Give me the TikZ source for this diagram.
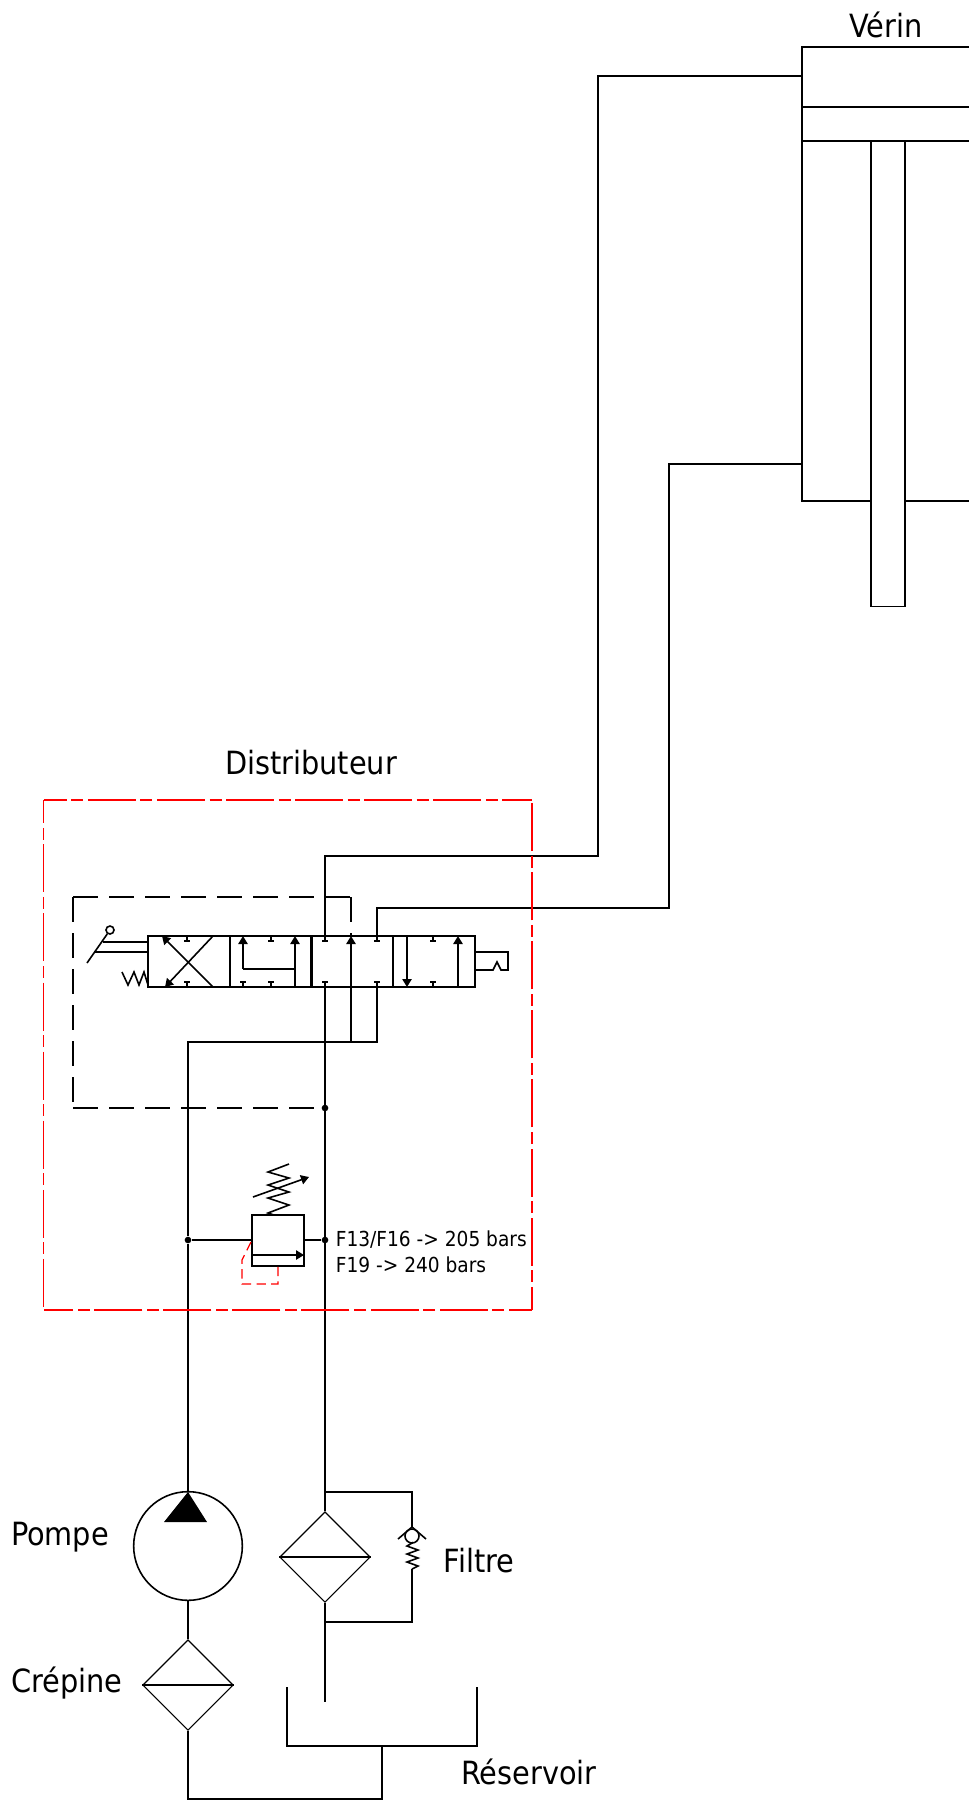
\documentclass[tikz,border=0pt]{standalone}
\usepackage{fontspec}
\setmainfont{DejaVu Sans Condensed}
\usetikzlibrary{arrows.meta,shapes.geometric}
\begin{document}
\begin{tikzpicture}[
                x=0.75pt,y=-0.75pt,
                line width=1.2pt,
                >={Triangle[length=6pt,width=7pt]},
                lab/.style={inner sep=0pt,font=\fontsize{24}{24}\selectfont},
                smalllab/.style={inner sep=0pt,anchor=west,font=\fontsize{15.5}{16}\selectfont},
                cell/.style={draw,inner sep=0pt,minimum width=61.2pt,minimum height=38.25pt},
                filt/.style={draw,diamond,inner sep=0pt,line width=0.9pt,minimum width=68pt,minimum height=68pt},
                dot/.style={circle,fill,inner sep=0pt,minimum size=5pt},
                reddash/.style={red,line width=1.3pt,dash pattern=on 36pt off 3.4pt on 9pt off 3.4pt,dash phase=18.5pt},
                pilot/.style={black,dash pattern=on 18.75pt off 8.25pt},
              ]
              \useasboundingbox (0,0) rectangle (969,1800);
              % labels
              \node[lab] (verin) at (886,25) {Vérin};
              \node[lab] (distrib) at (311,763) {Distributeur};
              \node[lab] (pompelab) at (60,1537) {Pompe};
              \node[lab] (filtrelab) at (479,1561) {Filtre};
              \node[lab] (crepinelab) at (67,1683) {Crépine};
              \node[lab] (reservoirlab) at (529,1772) {Réservoir};
              \node[smalllab] (tar1) at (335,1240) {F13/F16 -> 205 bars};
              \node[smalllab] (tar2) at (335,1265) {F19 -> 240 bars};
              % verin
              \coordinate (vtl) at (802,47);
              \coordinate (vtr) at (969,47);
              \coordinate (vbl) at (802,501);
              \coordinate (vbr) at (969,501);
              \coordinate (p1l) at (802,107);
              \coordinate (p1r) at (969,107);
              \coordinate (p2l) at (802,141);
              \coordinate (p2r) at (969,141);
              \coordinate (rodl) at (871,501);
              \coordinate (rodr) at (905,501);
              \draw (vtr)--(vtl)--(vbl)--(rodl);
              \draw (rodr)--(vbr);
              \draw (p1l)--(p1r);
              \draw (p2l)--(p2r);
              \node[draw,inner sep=0pt,minimum width=25.5pt,minimum height=349.5pt] (rod) at (888,373.5) {};
              % distributeur
              \node[cell] (c1) at (189,961.5) {};
              \node[cell] (c2) at (271,961.5) {};
              \node[cell] (c3) at (352,961.5) {};
              \node[cell] (c4) at (434,961.5) {};
              % passages
              \coordinate (xa) at (213,936);
              \coordinate (xb) at (165,987);
              \coordinate (xc) at (213,987);
              \coordinate (xd) at (162,936);
              \draw[->] (xa)--(xb);
              \draw[->] (xc)--(xd);
              \coordinate (a2) at (243,969);
              \coordinate (a2t) at (243,936);
              \coordinate (b2) at (295,969);
              \coordinate (b2t) at (295,936);
              \coordinate (b2b) at (295,987);
              \draw[->] (a2)--(a2t);
              \draw (a2)--(b2);
              \draw[->] (b2b)--(b2t);
              \coordinate (a3t) at (351,936);
              \coordinate (a3b) at (351,987);
              \draw[->] (a3b)--(a3t);
              \coordinate (a4t) at (407,936);
              \coordinate (a4b) at (407,987);
              \draw[->] (a4t)--(a4b);
              \coordinate (b4t) at (458,936);
              \coordinate (b4b) at (458,987);
              \draw[->] (b4b)--(b4t);
              % ports fermes
              \foreach \px in {187,271,325,377,433}{
                \draw[line width=0.8pt] (\px,936)--(\px,941);
                \draw[line width=0.8pt] (\px-3,941)--(\px+3,941);
              }
              \foreach \px in {187,243,271,325,377,433}{
                \draw[line width=0.8pt] (\px,987)--(\px,982);
                \draw[line width=0.8pt] (\px-3,982)--(\px+3,982);
              }
              % levier et ressort
              \node[draw,circle,inner sep=0pt,minimum size=6pt] (bille) at (110,930) {};
              \coordinate (levbas) at (87,963);
              \coordinate (lev1) at (103,942);
              \coordinate (lev1v) at (148,942);
              \coordinate (lev2) at (94,952);
              \coordinate (lev2v) at (148,952);
              \draw (bille)--(levbas);
              \draw (lev1)--(lev1v);
              \draw (lev2)--(lev2v);
              \draw (122,972)--(128,985)--(134,972)--(139,985)--(144,972)--(148,985);
              % commande droite
              \coordinate (d1) at (475,952);
              \coordinate (d2) at (508,952);
              \coordinate (d3) at (508,970);
              \coordinate (d4) at (493,970);
              \coordinate (d5) at (497,962);
              \coordinate (d6) at (501,970);
              \coordinate (d7) at (475,970);
              \draw (d1)--(d2)--(d3)--(d6)--(d5)--(d4)--(d7);
              % liaisons verin
              \coordinate (pa) at (325,936);
              \coordinate (pa1) at (325,856);
              \coordinate (pa2) at (598,856);
              \coordinate (pa3) at (598,76);
              \coordinate (pa4) at (802,76);
              \draw (pa)--(pa1)--(pa2)--(pa3)--(pa4);
              \coordinate (pb) at (377,936);
              \coordinate (pb1) at (377,908);
              \coordinate (pb2) at (669,908);
              \coordinate (pb3) at (669,464);
              \coordinate (pb4) at (802,464);
              \draw (pb)--(pb1)--(pb2)--(pb3)--(pb4);
              % filtre et retour
              \node[filt] (filtre) at (325,1557) {};
              \draw[line width=0.9pt] (filtre.west)--(filtre.east);
              \node[dot] (jt) at (325,1108) {};
              \node[dot] (jr) at (325,1240) {};
              \coordinate (rv) at (325,987);
              \draw (rv)--(filtre.north);
              \coordinate (rtop) at (325,1492);
              \coordinate (rtopd) at (412,1492);
              \coordinate (rbot) at (325,1622);
              \coordinate (rbotd) at (412,1622);
              \coordinate (rfin) at (325,1702);
              \draw (filtre.south)--(rfin);
              \node[draw,circle,inner sep=0pt,minimum size=10.5pt] (clapet) at (412,1536) {};
              \coordinate (ressh) at (412,1543);
              \coordinate (ressb) at (412,1569);
              \draw (rtop)--(rtopd)--(clapet);
              \draw (ressb)--(rbotd)--(rbot);
              \coordinate (vg) at (398,1539);
              \coordinate (vh) at (412,1527);
              \coordinate (vd) at (426,1539);
              \draw (vg)--(vh)--(vd);
              \draw (clapet)--(ressh)--(407,1546)--(418,1550)--(407,1554)--(418,1558)--(407,1562)--(418,1566)--(ressb);
              % pression
              \coordinate (pv1) at (351,987);
              \coordinate (pv2) at (351,1042);
              \coordinate (pv3) at (377,987);
              \coordinate (pv4) at (377,1042);
              \node[dot] (jp) at (188,1240) {};
              \coordinate (pl) at (188,1042);
              \draw (pv1)--(pv2);
              \draw (pv3)--(pv4)--(pl)--(jp);
              % pompe
              \node[draw,circle,inner sep=0pt,minimum size=81.5pt] (pompe) at (188,1546) {};
              \draw (jp)--(pompe.north);
              \coordinate (t1) at (188,1492);
              \coordinate (t2) at (207,1522);
              \coordinate (t3) at (164,1522);
              \fill (t1)--(t2)--(t3)--cycle;
              % crepine
              \node[filt] (crepine) at (188,1685) {};
              \draw[line width=0.9pt] (crepine.west)--(crepine.east);
              \draw (pompe.south)--(crepine.north);
              \coordinate (asp1) at (188,1799);
              \coordinate (asp2) at (382,1799);
              \coordinate (asp3) at (382,1746);
              \draw (crepine.south)--(asp1)--(asp2)--(asp3);
              % reservoir
              \coordinate (rs1) at (287,1687);
              \coordinate (rs2) at (287,1746);
              \coordinate (rs3) at (477,1746);
              \coordinate (rs4) at (477,1687);
              \draw (rs1)--(rs2)--(rs3)--(rs4);
              % limiteur
              \node[draw,inner sep=0pt,minimum width=39pt,minimum height=38.25pt] (lim) at (278,1240.5) {};
              \coordinate (limg) at (252,1240);
              \coordinate (limr) at (304,1240);
              \coordinate (limh) at (252,1255);
              \coordinate (limd) at (304,1255);
              \draw[->] (limh)--(limd);
              \draw (jp)--(limg);
              \draw (limr)--(jr);
              \coordinate (rlim) at (274,1215);
              \draw (rlim)--(268,1213)--(289,1205)--(268,1198)--(289,1192)--(268,1185)--(289,1178)--(268,1172)--(289,1164);
              \coordinate (fl1) at (253,1197);
              \coordinate (fl2) at (309,1177);
              \draw[->] (fl1)--(fl2);
              % pilotage
              \coordinate (pi1) at (351,936);
              \coordinate (pi2) at (351,897);
              \coordinate (pi3) at (73,897);
              \coordinate (pi4) at (73,1108);
              \draw[pilot] (pi2)--(pi1);
              \draw[pilot] (pi3)--(pi2);
              \draw[pilot] (pi3)--(pi4);
              \draw[pilot] (pi4)--(jt);
              \coordinate (rd1) at (251,1242);
              \coordinate (rd2) at (242,1260);
              \coordinate (rd3) at (242,1284);
              \coordinate (rd4) at (278,1284);
              \coordinate (rd5) at (278,1266);
              \draw[red,line width=0.9pt,dash pattern=on 7pt off 4pt] (rd1)--(rd2)--(rd3)--(rd4)--(rd5);
              % cadre
              \coordinate (cd1) at (43.5,800);
              \coordinate (cd2) at (532,800);
              \coordinate (cd3) at (532,1310);
              \coordinate (cd4) at (43.5,1310);
              \draw[reddash] (cd1)--(cd2);
              \draw[reddash] (cd1)--(cd4);
              \draw[reddash] (cd3)--(cd2);
              \draw[reddash] (cd3)--(cd4);
              \end{tikzpicture}
\end{document}
